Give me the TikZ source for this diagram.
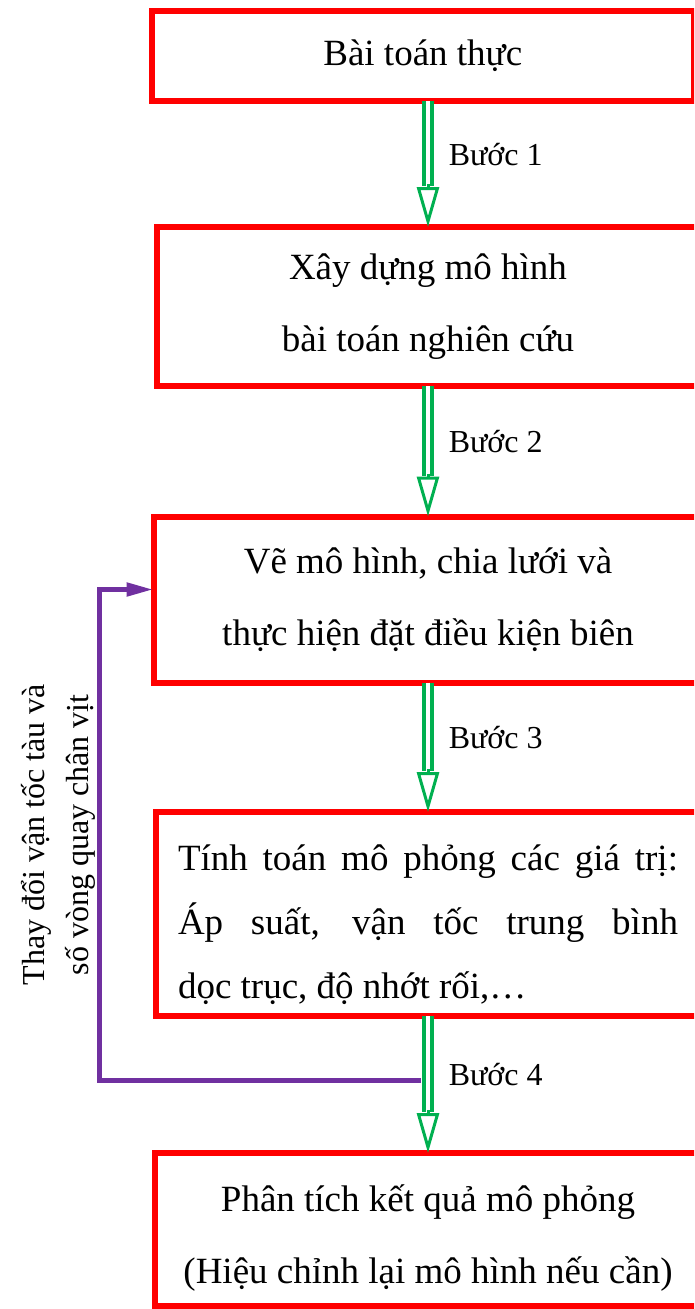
\documentclass[tikz,border=0pt]{standalone}
\usepackage{fontspec}
\setmainfont{Liberation Serif}
\usetikzlibrary{arrows.meta}

\definecolor{boxred}{RGB}{255,0,0}
\definecolor{flowgreen}{RGB}{0,176,80}
\definecolor{loopviolet}{RGB}{112,48,160}

\begin{document}
\begin{tikzpicture}[x=1pt,y=-1pt,
    procbox/.style={draw=boxred, line width=6pt, inner sep=0pt, outer sep=0pt,
      anchor=north west, align=center, font=\fontsize{37}{72}\selectfont},
    stepshaft/.style={draw=flowgreen, line width=3.5pt, double=white,
      double distance=4.5pt, shorten >=41pt},
    stephead/.style={draw=flowgreen, line width=3pt,
      -{Triangle[open, length=40pt, width=22pt]}},
    steplabel/.style={anchor=base west, inner sep=0pt, xshift=19pt, yshift=-1pt,
      font=\fontsize{32}{40}\selectfont},
    loopline/.style={draw=loopviolet, line width=5pt,
      -{Triangle[length=27pt, width=13pt]}}]
  \useasboundingbox (0,0) rectangle (694,1309);
  \clip (0,0) rectangle (694,1309);

  % cac buoc
  \node[procbox, minimum width=542.5pt, minimum height=90pt] (b1) at (151.5,11) {Bài toán thực};
  \node[procbox, minimum width=543pt, minimum height=159pt] (b2) at (156.5,227)
    {Xây dựng mô hình\\bài toán nghiên cứu};
  \node[procbox, minimum width=549pt, minimum height=166pt] (b3) at (153.5,516.5)
    {Vẽ mô hình, chia lưới và\\thực hiện đặt điều kiện biên};
  \node[procbox, minimum width=544pt, minimum height=204pt, text width=500pt,
    align=justify, font=\fontsize{37}{64}\selectfont] (b4) at (156,812)
    {\rule{0pt}{48pt}Tính toán mô phỏng các giá trị:\linebreak Áp suất, vận tốc trung bình\linebreak dọc trục, độ nhớt rối,…};
  \node[procbox, minimum width=546pt, minimum height=153pt] (b5) at (155,1153)
    {\rule{0pt}{44pt}Phân tích kết quả mô phỏng\\(Hiệu chỉnh lại mô hình nếu cần)};

  % mui ten
  \draw[stepshaft] (b1.south -| b2.north) -- node[steplabel] {Bước 1} (b2.north);
  \draw[stephead] ([yshift=43pt]b2.north) -- (b2.north);
  \draw[stepshaft] (b2.south) -- node[steplabel] {Bước 2} (b3.north);
  \draw[stephead] ([yshift=43pt]b3.north) -- (b3.north);
  \draw[stepshaft] (b3.south) -- node[steplabel] {Bước 3} (b4.north);
  \draw[stephead] ([yshift=43pt]b4.north) -- (b4.north);
  \draw[stepshaft] (b4.south) -- node[steplabel] {Bước 4} (b5.north);
  \draw[stephead] ([yshift=43pt]b5.north) -- (b5.north);

  % vong lap
  \coordinate (fb) at (421,1080);
  \draw[loopline] (fb) -| node[pos=0.75, rotate=90, anchor=south, inner sep=2pt,
      align=center, font=\fontsize{32}{44}\selectfont]
      {Thay đổi vận tốc tàu và\\số vòng quay chân vịt}
    ([xshift=-54pt, yshift=10pt]b3.west) -- ([yshift=10pt]b3.west);
\end{tikzpicture}
\end{document}
